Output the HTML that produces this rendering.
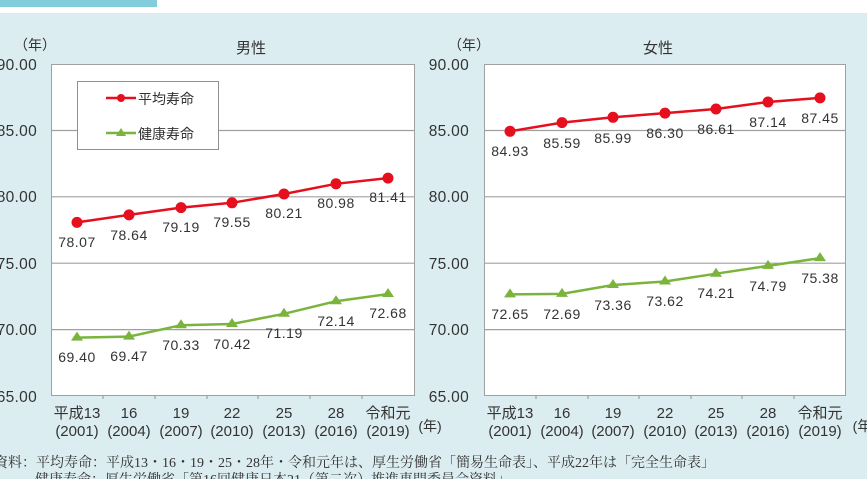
<!DOCTYPE html>
<html><head><meta charset="utf-8"><style>
html,body{margin:0;padding:0;width:867px;height:479px;overflow:hidden;background:#dcedf1;}
svg{display:block;font-family:"Liberation Sans","Noto Sans CJK JP",sans-serif;}
</style></head><body>
<svg width="867" height="479" viewBox="0 0 867 479" xmlns="http://www.w3.org/2000/svg">
<rect x="0" y="0" width="867" height="13" fill="#fff"/>
<rect x="0" y="0" width="157" height="7" fill="#82ccdc"/>
<rect x="0" y="13" width="867" height="466" fill="#dcedf1"/>

<!-- LEFT -->
<g font-size="14" fill="#333">
<text x="14" y="50">（年）</text>
<text x="236" y="53" font-size="15">男性</text>
<g text-anchor="end" font-size="15.5" letter-spacing="0.3">
<text x="37" y="70">90.00</text><text x="37" y="136">85.00</text><text x="37" y="202">80.00</text><text x="37" y="269">75.00</text><text x="37" y="335">70.00</text><text x="37" y="402">65.00</text>
</g>
</g>
<rect x="51.5" y="64.5" width="363" height="331" fill="#fff" stroke="#a0a0a0"/>
<g stroke="#a0a0a0" stroke-width="1.2">
<line x1="51" y1="130.5" x2="414" y2="130.5"/><line x1="51" y1="196.8" x2="414" y2="196.8"/><line x1="51" y1="263.2" x2="414" y2="263.2"/><line x1="51" y1="329.6" x2="414" y2="329.6"/>
<line x1="103" y1="395" x2="103" y2="399"/><line x1="155" y1="395" x2="155" y2="399"/><line x1="207" y1="395" x2="207" y2="399"/><line x1="258" y1="395" x2="258" y2="399"/><line x1="310" y1="395" x2="310" y2="399"/><line x1="362" y1="395" x2="362" y2="399"/>
</g>
<rect x="77.5" y="81.5" width="141" height="68" fill="#fff" stroke="#909090"/>
<line x1="106" y1="98" x2="136" y2="98" stroke="#e60f1e" stroke-width="2.5"/><circle cx="121" cy="98" r="4" fill="#e60f1e"/>
<line x1="106" y1="133" x2="136" y2="133" stroke="#7ab43c" stroke-width="2.5"/><polygon points="121,128 126,136 116,136" fill="#7ab43c"/>
<text x="138" y="104" font-size="14" fill="#333">平均寿命</text>
<text x="138" y="139" font-size="14" fill="#333">健康寿命</text>

<polyline fill="none" stroke="#e60f1e" stroke-width="2.5" points="77,222.4 129,214.9 181,207.6 232,202.8 284,194 336,183.8 388,178.1"/>
<g fill="#e60f1e"><circle cx="77" cy="222.4" r="5.5"/><circle cx="129" cy="214.9" r="5.5"/><circle cx="181" cy="207.6" r="5.5"/><circle cx="232" cy="202.8" r="5.5"/><circle cx="284" cy="194" r="5.5"/><circle cx="336" cy="183.8" r="5.5"/><circle cx="388" cy="178.1" r="5.5"/></g>
<polyline fill="none" stroke="#7ab43c" stroke-width="2.5" points="77,337.6 129,336.6 181,325.2 232,324 284,313.8 336,301.2 388,294"/>
<g fill="#7ab43c">
<polygon points="77,331.6 83,340.6 71,340.6"/><polygon points="129,330.6 135,339.6 123,339.6"/><polygon points="181,319.2 187,328.2 175,328.2"/><polygon points="232,318 238,327 226,327"/><polygon points="284,307.8 290,316.8 278,316.8"/><polygon points="336,295.2 342,304.2 330,304.2"/><polygon points="388,288 394,297 382,297"/>
</g>
<g font-size="14" fill="#333" text-anchor="middle" letter-spacing="0.5">
<text x="77" y="247">78.07</text><text x="129" y="240">78.64</text><text x="181" y="232">79.19</text><text x="232" y="227">79.55</text><text x="284" y="218">80.21</text><text x="336" y="208">80.98</text><text x="388" y="202">81.41</text>
<text x="77" y="362">69.40</text><text x="129" y="361">69.47</text><text x="181" y="350">70.33</text><text x="232" y="349">70.42</text><text x="284" y="338">71.19</text><text x="336" y="326">72.14</text><text x="388" y="318">72.68</text>
</g>
<g font-size="15" fill="#333" text-anchor="middle">
<text x="77" y="418">平成13</text><text x="129" y="418">16</text><text x="181" y="418">19</text><text x="232" y="418">22</text><text x="284" y="418">25</text><text x="336" y="418">28</text><text x="388" y="418">令和元</text>
<text x="77" y="436">(2001)</text><text x="129" y="436">(2004)</text><text x="181" y="436">(2007)</text><text x="232" y="436">(2010)</text><text x="284" y="436">(2013)</text><text x="336" y="436">(2016)</text><text x="388" y="436">(2019)</text>
<text x="430" y="431" font-size="14">(年)</text>
</g>

<!-- RIGHT -->
<g font-size="14" fill="#333">
<text x="448" y="50">（年）</text>
<text x="643" y="53" font-size="15">女性</text>
<g text-anchor="end" font-size="15.5" letter-spacing="0.3">
<text x="469" y="70">90.00</text><text x="469" y="136">85.00</text><text x="469" y="202">80.00</text><text x="469" y="269">75.00</text><text x="469" y="335">70.00</text><text x="469" y="402">65.00</text>
</g>
</g>
<rect x="484.5" y="64.5" width="361" height="331" fill="#fff" stroke="#a0a0a0"/>
<g stroke="#a0a0a0" stroke-width="1.2">
<line x1="484" y1="130.5" x2="846" y2="130.5"/><line x1="484" y1="196.8" x2="846" y2="196.8"/><line x1="484" y1="263.2" x2="846" y2="263.2"/><line x1="484" y1="329.6" x2="846" y2="329.6"/>
<line x1="536" y1="395" x2="536" y2="399"/><line x1="588" y1="395" x2="588" y2="399"/><line x1="639" y1="395" x2="639" y2="399"/><line x1="691" y1="395" x2="691" y2="399"/><line x1="742" y1="395" x2="742" y2="399"/><line x1="794" y1="395" x2="794" y2="399"/>
</g>
<polyline fill="none" stroke="#e60f1e" stroke-width="2.5" points="510,131.3 562,122.6 613,117.3 665,113.1 716,109 768,102 820,97.9"/>
<g fill="#e60f1e"><circle cx="510" cy="131.3" r="5.5"/><circle cx="562" cy="122.6" r="5.5"/><circle cx="613" cy="117.3" r="5.5"/><circle cx="665" cy="113.1" r="5.5"/><circle cx="716" cy="109" r="5.5"/><circle cx="768" cy="102" r="5.5"/><circle cx="820" cy="97.9" r="5.5"/></g>
<polyline fill="none" stroke="#7ab43c" stroke-width="2.5" points="510,294.4 562,293.9 613,285 665,281.5 716,273.7 768,265.9 820,258.1"/>
<g fill="#7ab43c">
<polygon points="510,288.4 516,297.4 504,297.4"/><polygon points="562,287.9 568,296.9 556,296.9"/><polygon points="613,279 619,288 607,288"/><polygon points="665,275.5 671,284.5 659,284.5"/><polygon points="716,267.7 722,276.7 710,276.7"/><polygon points="768,259.9 774,268.9 762,268.9"/><polygon points="820,252.1 826,261.1 814,261.1"/>
</g>
<g font-size="14" fill="#333" text-anchor="middle" letter-spacing="0.5">
<text x="510" y="156">84.93</text><text x="562" y="148">85.59</text><text x="613" y="143">85.99</text><text x="665" y="138">86.30</text><text x="716" y="134">86.61</text><text x="768" y="127">87.14</text><text x="820" y="123">87.45</text>
<text x="510" y="319">72.65</text><text x="562" y="319">72.69</text><text x="613" y="310">73.36</text><text x="665" y="306">73.62</text><text x="716" y="298">74.21</text><text x="768" y="291">74.79</text><text x="820" y="283">75.38</text>
</g>
<g font-size="15" fill="#333" text-anchor="middle">
<text x="510" y="418">平成13</text><text x="562" y="418">16</text><text x="613" y="418">19</text><text x="665" y="418">22</text><text x="716" y="418">25</text><text x="768" y="418">28</text><text x="820" y="418">令和元</text>
<text x="510" y="436">(2001)</text><text x="562" y="436">(2004)</text><text x="613" y="436">(2007)</text><text x="665" y="436">(2010)</text><text x="716" y="436">(2013)</text><text x="768" y="436">(2016)</text><text x="820" y="436">(2019)</text>
<text x="862" y="431" font-size="14">(年</text>
</g>

<g font-family="'Liberation Serif','Noto Serif CJK SC',serif" font-size="14" fill="#333">
<text x="-6" y="467">資料：平均寿命：平成13・16・19・25・28年・令和元年は、厚生労働省「簡易生命表」、平成22年は「完全生命表」</text>
<text x="35" y="484">健康寿命：厚生労働省「第16回健康日本21（第二次）推進専門委員会資料」</text>
</g>
</svg>
</body></html>
